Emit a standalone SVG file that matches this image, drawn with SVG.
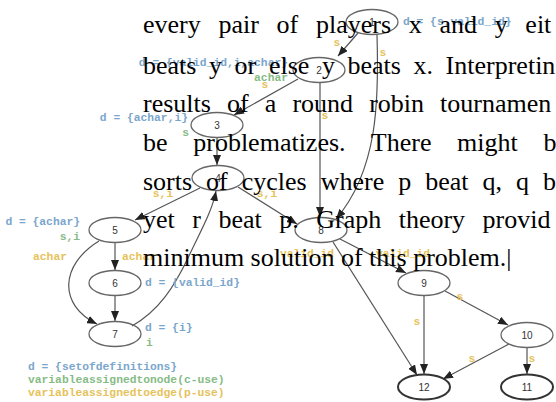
<svg xmlns="http://www.w3.org/2000/svg" width="556" height="402" viewBox="0 0 556 402">
<style>
.n ellipse{fill:none;stroke:#666;stroke-width:1.3}
.n.t ellipse{stroke:#333;stroke-width:2}
.n text{font-family:"Liberation Sans",Arial,sans-serif;font-size:10px;fill:#333;text-anchor:middle}
.e path{fill:none;stroke:#555;stroke-width:1.2;marker-end:url(#a)}
.l{font-family:"Liberation Mono",monospace;font-size:11.3px;font-weight:bold}
.bl{fill:#7ba6cc}.gr{fill:#86bb86}.ye{fill:#e6c25a}
.end{text-anchor:end}.mid{text-anchor:middle}
.p{font-family:"Liberation Serif","Times New Roman",serif;font-size:26px;fill:#000}
</style>
<defs>
<marker id="a" viewBox="0 0 10 8" refX="10" refY="4" markerWidth="10" markerHeight="8" markerUnits="userSpaceOnUse" orient="auto"><path d="M0,0 L10,4 L0,8 z" fill="#222"/></marker>
</defs>
<g id="edges" class="e">
<path d="M358,33 L338,56"/>
<path d="M377,35 C379,100 378,170 336,219"/>
<path d="M298,79 L234,115"/>
<path d="M320,83 L320,217"/>
<path d="M217,138 L217,165"/>
<path d="M200,188 L135,220"/>
<path d="M238,187 L297,224"/>
<path d="M115,243 L115,270"/>
<path d="M115,296 L115,321"/>
<path d="M99,241 C60,265 58,305 97,324"/>
<path d="M132,326 C160,310 175,285 188,258 C200,232 212,212 216,191"/>
<path d="M340,239 L406,273"/>
<path d="M333,242 L417,375"/>
<path d="M424,296 L424,374"/>
<path d="M445,291 L508,325"/>
<path d="M509,344 L443,379"/>
<path d="M527,348 L527,374"/>
</g>
<g id="node1" class="n"><ellipse cx="372" cy="22" rx="26" ry="12.5"/><text x="372" y="25.5">1</text></g>
<g id="node2" class="n"><ellipse cx="319" cy="70" rx="26" ry="12.5"/><text x="319" y="73.5">2</text></g>
<g id="node3" class="n"><ellipse cx="217" cy="125" rx="26" ry="12.5"/><text x="217" y="128.5">3</text></g>
<g id="node4" class="n"><ellipse cx="218" cy="178" rx="26" ry="12.5"/><text x="218" y="181.5">4</text></g>
<g id="node5" class="n"><ellipse cx="115" cy="230" rx="26" ry="12.5"/><text x="115" y="233.5">5</text></g>
<g id="node6" class="n"><ellipse cx="115" cy="283" rx="26" ry="12.5"/><text x="115" y="286.5">6</text></g>
<g id="node7" class="n"><ellipse cx="115" cy="334" rx="26" ry="12.5"/><text x="115" y="337.5">7</text></g>
<g id="node8" class="n"><ellipse cx="321" cy="230" rx="26" ry="12.5"/><text x="321" y="233.5">8</text></g>
<g id="node9" class="n"><ellipse cx="424" cy="283" rx="26" ry="12.5"/><text x="424" y="286.5">9</text></g>
<g id="node10" class="n"><ellipse cx="527" cy="335" rx="26" ry="12.5"/><text x="527" y="338.5">10</text></g>
<g id="node11" class="n t"><ellipse cx="527" cy="387" rx="26" ry="12.5"/><text x="527" y="390.5">11</text></g>
<g id="node12" class="n t"><ellipse cx="424" cy="387" rx="26" ry="12.5"/><text x="424" y="390.5">12</text></g>
<g id="labels" class="l">
<text class="bl" x="403" y="25">d = {s,valid_id}</text>
<text class="bl end" x="288" y="66">d = {valid_id,i,achar}</text>
<text class="gr end" x="288" y="81">achar</text>
<text class="bl end" x="188" y="121">d = {achar,i}</text>
<text class="gr end" x="189" y="136">s</text>
<text class="bl end" x="80" y="225">d = {achar}</text>
<text class="gr end" x="80" y="240">s,i</text>
<text class="bl" x="145" y="286">d = {valid_id}</text>
<text class="bl" x="145" y="331">d = {i}</text>
<text class="gr" x="146" y="346">i</text>
<text class="ye mid" x="337" y="46">s</text>
<text class="ye mid" x="383" y="56">s</text>
<text class="ye mid" x="265" y="88">s</text>
<text class="ye mid" x="325" y="119">s</text>
<text class="ye mid" x="163" y="197">s,i</text>
<text class="ye mid" x="267" y="197">s,i</text>
<text class="ye mid" x="50" y="260">achar</text>
<text class="ye mid" x="139" y="260">achar</text>
<text class="ye mid" x="307" y="257">valid_id</text>
<text class="ye mid" x="403" y="257">valid_id</text>
<text class="ye mid" x="460" y="300">s</text>
<text class="ye mid" x="417" y="325">s</text>
<text class="ye mid" x="472" y="362">s</text>
<text class="ye mid" x="532" y="362">s</text>
<text class="bl" x="28" y="370">d = {setofdefinitions}</text>
<text class="gr" x="28" y="383">variableassignedtonode(c-use)</text>
<text class="ye" x="28" y="396">variableassignedtoedge(p-use)</text>
</g>
<g id="paragraph" class="p">
<text x="143" y="33" word-spacing="11.2">every pair of players x and y eit</text>
<text x="143" y="73.5" word-spacing="6.1">beats y or else y beats x. Interpretin</text>
<text x="143" y="112" word-spacing="9.6">results of a round robin tournamen</text>
<text x="143" y="151" word-spacing="19.2">be problematizes. There might b</text>
<text x="143" y="189.5" word-spacing="7.5">sorts of cycles where p beat q, q b</text>
<text x="143" y="227.5" word-spacing="11">yet r beat p. Graph theory provid</text>
<text x="143" y="265.5">minimum solution of this problem.|</text>
</g>
</svg>
